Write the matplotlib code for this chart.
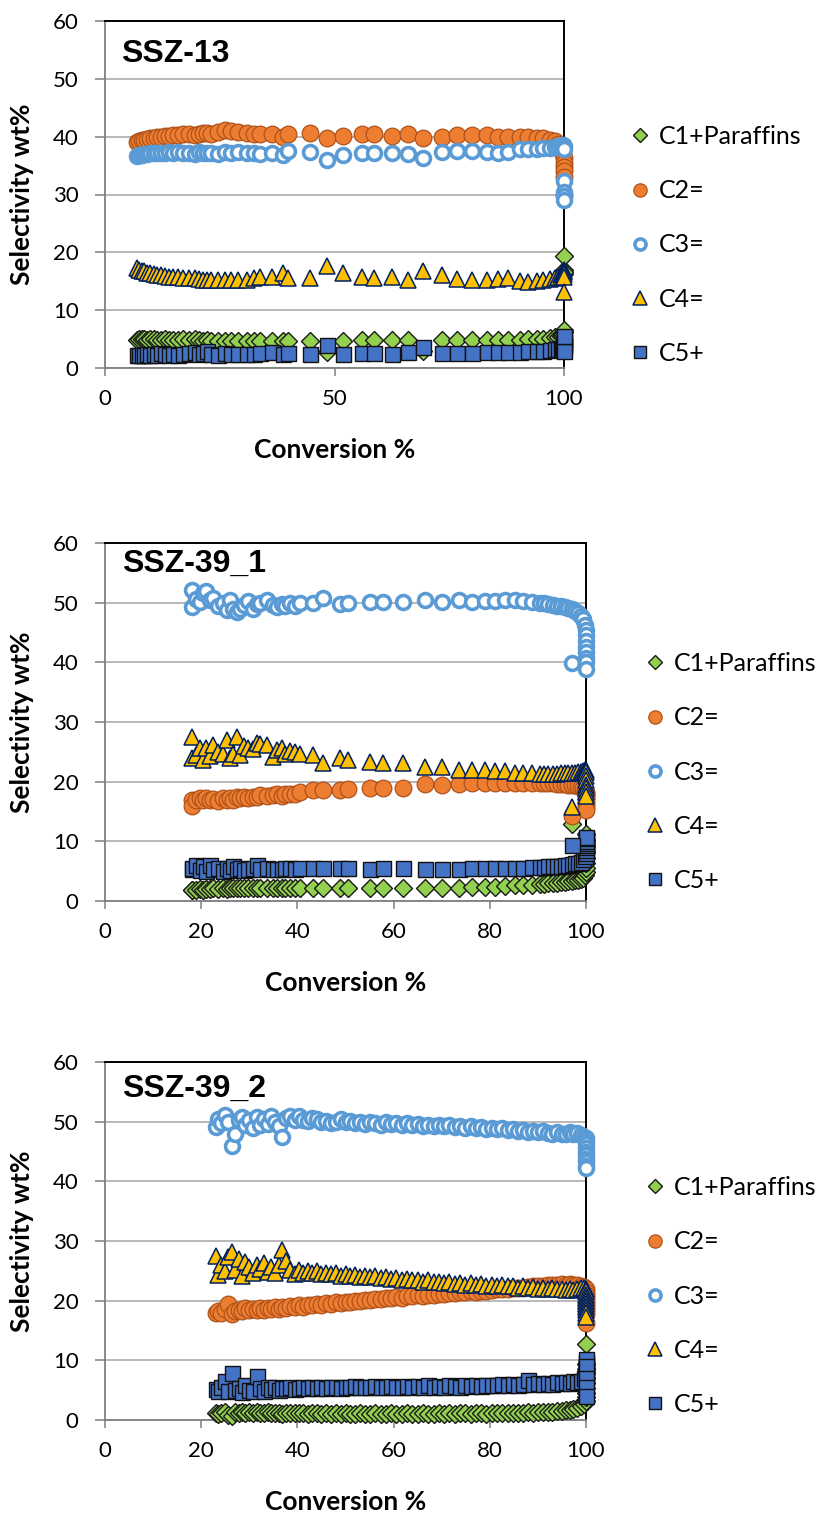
import matplotlib
matplotlib.use('Agg')
from matplotlib import pyplot as plt

plt.rcParams['font.family'] = ['Lato', 'DejaVu Sans']

# ---------------- SSZ-13 ----------------
conv_13 = [7.0, 7.5, 8.0, 8.6, 9.2, 9.9, 10.6, 11.4, 12.2, 13.0,
           13.9, 14.8, 15.8, 17.1, 18.4, 19.6, 20.5, 21.4, 22.3, 23.2,
           24.7, 26.1, 27.5, 29.0, 30.9, 32.4, 33.8, 36.3, 38.8, 39.9,
           44.7, 48.3, 51.9, 55.9, 58.5, 62.5, 66.1, 69.3, 73.4, 76.6,
           79.9, 83.2, 85.7, 87.9, 90.4, 92.2, 94.1, 95.5, 96.9, 98.0,
           98.8, 99.3, 99.6, 99.8, 99.9, 100, 100, 100, 100, 100]
c1_13 = [4.9, 5.0, 5.0, 5.0, 4.9, 5.0, 5.0, 4.9, 4.9, 5.0,
         4.9, 4.8, 4.9, 5.0, 4.9, 5.1, 4.9, 4.7, 4.8, 4.7,
         4.7, 4.6, 4.7, 4.6, 4.6, 4.6, 4.7, 4.7, 4.7, 4.7,
         4.7, 2.7, 4.7, 4.8, 4.8, 4.8, 4.8, 3.0, 4.8, 4.8,
         4.8, 4.9, 4.9, 4.9, 4.9, 5.0, 5.0, 5.1, 5.2, 5.3,
         5.4, 5.5, 5.7, 5.9, 6.2, 6.6, 16.3, 17.0, 16.6, 19.4]
c2_13 = [39.0, 39.2, 39.4, 39.5, 39.6, 39.7, 39.8, 39.9, 40.0, 40.1,
         40.2, 40.3, 40.3, 40.5, 40.4, 40.3, 40.5, 40.7, 40.6, 40.5,
         40.8, 41.2, 40.9, 40.8, 40.6, 40.5, 40.4, 40.4, 40.0, 40.4,
         40.6, 39.8, 40.2, 40.4, 40.5, 40.2, 40.4, 39.8, 39.9, 40.3,
         40.3, 40.3, 40.0, 40.0, 40.0, 39.9, 39.8, 39.7, 39.5, 39.2,
         38.8, 38.3, 37.6, 37.0, 36.3, 35.5, 34.8, 34.0, 33.0, 30.0]
c3_13 = [36.6, 36.8, 36.9, 37.0, 37.0, 37.1, 37.2, 37.1, 37.2, 37.2,
         37.3, 37.2, 37.3, 37.2, 37.2, 37.0, 37.3, 37.2, 37.1, 37.2,
         37.0, 37.3, 37.2, 37.3, 37.2, 37.2, 37.0, 37.1, 36.9, 37.5,
         37.3, 35.9, 36.8, 37.1, 37.1, 37.1, 37.0, 36.3, 37.3, 37.6,
         37.5, 37.4, 37.2, 37.3, 37.8, 37.8, 37.9, 38.0, 38.0, 38.2,
         38.3, 38.4, 38.5, 38.5, 38.3, 37.8, 32.3, 30.5, 29.8, 29.1]
c4_13 = [17.3, 17.0, 16.8, 16.7, 16.5, 16.4, 16.2, 16.1, 16.0, 15.9,
         15.8, 15.7, 15.7, 15.6, 15.5, 15.5, 15.4, 15.3, 15.3, 15.2,
         15.3, 15.3, 15.2, 15.2, 15.2, 15.6, 15.8, 15.8, 16.4, 15.6,
         15.5, 17.6, 16.4, 15.7, 15.5, 15.8, 15.2, 16.8, 16.0, 15.4,
         15.2, 15.2, 15.4, 15.6, 15.1, 14.9, 15.1, 15.3, 15.4, 15.6,
         15.8, 16.0, 16.3, 16.6, 16.8, 17.0, 16.6, 16.2, 15.8, 13.2]
c5_13 = [2.2, 2.2, 2.3, 2.2, 2.4, 2.3, 2.5, 2.3, 2.6, 2.4,
         2.3, 2.5, 2.3, 2.4, 2.6, 2.8, 2.4, 2.6, 3.0, 2.5,
         2.3, 2.6, 2.4, 2.5, 2.5, 2.4, 2.6, 2.7, 2.4, 2.6,
         2.5, 4.0, 2.5, 2.6, 2.6, 2.5, 2.7, 3.6, 2.6, 2.6,
         2.6, 2.7, 2.7, 2.7, 2.8, 2.9, 3.0, 3.0, 3.1, 3.2,
         3.3, 3.4, 3.5, 3.6, 3.8, 4.0, 4.5, 5.0, 3.0, 5.6]

# ---------------- SSZ-39_1 ----------------
conv_391 = [18.0, 18.0, 19.0, 19.8, 20.4, 21.1, 21.8, 22.5, 23.5, 24.6,
            25.3, 26.0, 26.7, 27.4, 28.1, 28.8, 29.8, 30.8, 31.5, 32.2,
            33.6, 35.0, 35.7, 36.7, 37.4, 38.5, 39.5, 40.5, 43.3, 45.4,
            48.9, 50.6, 55.1, 57.9, 62.0, 66.5, 70.0, 73.5, 76.2, 79.0,
            81.1, 83.2, 85.2, 87.0, 88.7, 90.4, 91.3, 92.2, 93.1, 93.9,
            94.8, 95.6, 96.3, 97.0, 97.7, 98.4, 98.9, 99.4, 99.7, 99.9,
            100, 100, 100, 100, 100, 100, 100, 97.0]
c1_391 = [1.9, 1.8, 1.9, 2.0, 1.9, 2.0, 2.0, 2.1, 2.0, 2.1,
          2.0, 2.1, 2.1, 2.1, 2.1, 2.1, 2.1, 2.1, 2.1, 2.1,
          2.1, 2.1, 2.2, 2.1, 2.1, 2.2, 2.1, 2.1, 2.1, 2.2,
          2.1, 2.2, 2.1, 2.1, 2.2, 2.1, 2.2, 2.2, 2.3, 2.3,
          2.4, 2.5, 2.6, 2.6, 2.7, 2.8, 2.9, 3.0, 3.0, 3.1,
          3.2, 3.2, 3.3, 3.4, 3.5, 3.6, 3.7, 3.9, 4.3, 4.8,
          5.5, 6.3, 7.2, 8.2, 9.2, 10.3, 11.3, 12.9]
c2_391 = [16.9, 15.9, 17.0, 17.2, 17.0, 17.3, 16.9, 17.1, 16.8, 17.2,
          17.0, 17.2, 16.9, 17.4, 17.2, 17.5, 17.3, 17.5, 17.4, 17.7,
          17.6, 17.7, 17.9, 17.6, 17.9, 17.9, 18.0, 18.3, 18.6, 18.6,
          18.6, 18.7, 18.9, 18.9, 18.9, 19.6, 19.5, 19.6, 19.7, 19.7,
          19.8, 19.8, 19.8, 19.8, 19.8, 19.8, 19.7, 19.7, 19.7, 19.6,
          19.6, 19.6, 19.5, 19.5, 19.4, 19.3, 19.1, 18.9, 18.6, 18.3,
          18.0, 17.6, 17.2, 16.8, 16.3, 15.8, 15.2, 14.3]
c3_391 = [52.1, 49.3, 50.6, 50.1, 51.7, 52.0, 50.4, 50.7, 49.5, 50.0,
          48.8, 50.4, 49.0, 48.4, 48.9, 49.6, 50.2, 49.0, 49.8, 49.9,
          50.4, 49.6, 49.2, 49.7, 49.5, 49.9, 49.4, 49.9, 49.9, 50.7,
          49.8, 50.0, 50.1, 50.1, 50.1, 50.4, 50.1, 50.5, 50.1, 50.2,
          50.2, 50.4, 50.5, 50.3, 50.1, 50.0, 49.9, 49.8, 49.6, 49.5,
          49.4, 49.2, 49.1, 48.9, 48.6, 48.2, 47.8, 47.2, 46.3, 45.5,
          44.5, 43.6, 42.6, 41.7, 40.8, 40.0, 38.8, 39.9]
c4_391 = [27.5, 23.9, 24.5, 25.6, 23.6, 25.6, 24.3, 26.1, 25.0, 24.6,
          27.0, 24.0, 24.6, 27.5, 24.5, 26.0, 25.6, 25.5, 26.4, 26.3,
          26.1, 24.2, 25.3, 25.6, 24.7, 25.1, 25.0, 24.7, 24.5, 23.1,
          23.9, 23.6, 23.3, 23.2, 23.2, 22.5, 22.5, 21.9, 22.0, 21.9,
          21.8, 21.8, 21.4, 21.4, 21.4, 21.3, 21.3, 21.3, 21.3, 21.3,
          21.4, 21.4, 21.4, 21.5, 21.5, 21.6, 21.7, 21.8, 21.9, 22.0,
          21.6, 21.0, 20.2, 19.5, 18.9, 18.3, 17.6, 15.8]
c5_391 = [5.4, 5.6, 6.0, 5.2, 5.8, 5.1, 6.0, 5.3, 5.5, 5.0,
          5.6, 5.2, 5.9, 5.3, 5.5, 5.2, 5.4, 5.6, 6.1, 5.4,
          5.6, 5.4, 5.3, 5.3, 5.5, 5.5, 5.4, 5.5, 5.5, 5.5,
          5.5, 5.5, 5.3, 5.5, 5.5, 5.3, 5.4, 5.4, 5.5, 5.6,
          5.6, 5.6, 5.6, 5.6, 5.7, 5.7, 5.7, 5.8, 5.8, 5.9,
          5.9, 6.0, 6.1, 6.2, 6.3, 6.4, 6.6, 7.0, 7.5, 8.0,
          8.5, 9.0, 9.4, 9.8, 10.1, 10.5, 10.8, 9.4]

# ---------------- SSZ-39_2 ----------------
conv_392 = [23.0, 23.5, 24.2, 25.0, 25.6, 26.3, 27.0, 27.8, 28.5, 29.2,
            30.0, 30.8, 31.5, 32.3, 33.0, 33.8, 34.6, 35.4, 36.2, 36.9,
            37.7, 38.5, 39.4, 40.3, 41.2, 42.1, 43.0, 44.0, 45.0, 46.0,
            47.0, 48.0, 49.0, 50.0, 51.0, 52.0, 53.0, 54.0, 55.1, 56.2,
            57.3, 58.4, 59.5, 60.6, 61.7, 62.8, 63.9, 65.0, 66.1, 67.2,
            68.3, 69.4, 70.5, 71.6, 72.7, 73.8, 74.9, 76.0, 77.1, 78.2,
            79.3, 80.4, 81.5, 82.6, 83.7, 84.8, 85.9, 87.0, 88.0, 89.0,
            90.0, 91.0, 92.0, 93.0, 94.0, 95.0, 95.8, 96.6, 97.4, 98.2,
            98.9, 99.5, 99.9, 100, 100, 100, 100, 100, 100, 100,
            100, 100]
c1_392 = [1.1, 1.0, 1.2, 1.3, 0.9, 0.6, 1.4, 1.1, 1.3, 1.2,
          1.4, 1.1, 1.3, 1.2, 1.1, 1.3, 1.2, 1.1, 1.2, 1.0,
          1.2, 1.1, 1.2, 1.1, 1.2, 1.0, 1.1, 1.1, 1.0, 1.1,
          1.0, 1.1, 1.0, 1.1, 1.0, 1.0, 1.1, 1.0, 1.0, 1.1,
          1.0, 1.0, 1.1, 1.0, 1.0, 1.1, 1.0, 1.0, 1.1, 1.0,
          1.0, 1.1, 1.0, 1.1, 1.0, 1.1, 1.1, 1.0, 1.1, 1.1,
          1.0, 1.1, 1.1, 1.2, 1.1, 1.2, 1.2, 1.2, 1.3, 1.2,
          1.3, 1.3, 1.4, 1.4, 1.5, 1.5, 1.6, 1.7, 1.8, 2.0,
          2.3, 2.7, 3.2, 3.8, 4.6, 5.4, 6.2, 7.0, 7.8, 8.6,
          9.4, 12.8]
c2_392 = [17.9, 18.3, 18.0, 18.6, 19.4, 17.7, 18.3, 18.5, 18.2, 18.7,
          18.4, 18.6, 18.5, 18.8, 18.4, 18.8, 18.6, 18.9, 18.6, 19.0,
          18.8, 19.1, 18.9, 19.2, 19.0, 19.3, 19.2, 19.4, 19.3, 19.6,
          19.5, 19.7, 19.6, 19.8, 19.8, 20.0, 19.9, 20.1, 20.1, 20.3,
          20.2, 20.4, 20.4, 20.6, 20.5, 20.7, 20.7, 20.9, 20.8, 21.0,
          21.0, 21.2, 21.1, 21.3, 21.3, 21.4, 21.4, 21.6, 21.5, 21.7,
          21.7, 21.8, 21.9, 22.0, 22.0, 22.1, 22.2, 22.2, 22.3, 22.4,
          22.4, 22.5, 22.6, 22.6, 22.7, 22.8, 22.7, 22.8, 22.7, 22.6,
          22.5, 22.3, 22.0, 21.5, 21.0, 20.5, 20.0, 19.5, 19.0, 18.5,
          17.8, 16.2]
c3_392 = [49.1, 50.5, 49.8, 51.2, 50.0, 46.0, 48.0, 50.3, 50.8, 49.5,
          50.2, 49.0, 50.8, 49.4, 50.5, 49.6, 50.9, 50.0, 49.3, 47.5,
          50.6, 51.0, 50.2, 50.9, 50.3, 50.1, 50.6, 50.4, 49.9, 50.1,
          49.7, 50.0, 50.4, 49.9, 50.1, 49.8, 50.0, 49.6, 50.0, 49.7,
          49.4, 49.9, 49.6, 49.8, 49.5, 49.7, 49.4, 49.6, 49.3, 49.5,
          49.2, 49.4, 49.2, 49.4, 49.1, 49.3, 49.0, 49.2, 48.9, 49.1,
          48.8, 49.0, 48.7, 48.9, 48.6, 48.8, 48.5, 48.6, 48.3, 48.5,
          48.2, 48.4, 48.1, 48.0, 48.2, 47.9, 48.0, 48.3, 47.9, 48.1,
          47.8, 47.5, 47.2, 46.8, 46.2, 45.6, 45.0, 44.4, 43.8, 43.2,
          42.6, 42.3]
c4_392 = [27.5, 24.3, 26.0, 25.0, 27.3, 28.2, 25.2, 26.9, 24.2, 26.4,
          25.6, 24.6, 26.0, 25.3, 26.3, 24.8, 25.7, 24.6, 26.0, 28.5,
          26.6, 25.1, 24.4, 25.2, 24.7, 25.0, 24.6, 24.9, 24.5, 24.7,
          24.4, 24.6, 24.2, 24.5, 24.1, 24.3, 24.0, 24.2, 23.9, 24.1,
          23.8, 23.9, 23.6, 23.8, 23.5, 23.7, 23.4, 23.5, 23.2, 23.4,
          23.1, 23.2, 23.0, 23.1, 22.8, 23.0, 22.7, 22.9, 22.6, 22.8,
          22.5, 22.7, 22.4, 22.6, 22.4, 22.5, 22.2, 22.4, 22.1, 22.3,
          22.0, 22.2, 22.0, 22.1, 21.9, 22.0, 21.8, 22.0, 21.8, 22.0,
          22.1, 22.2, 22.0, 21.6, 21.0, 20.5, 20.0, 19.5, 19.0, 18.5,
          18.0, 17.3]
c5_392 = [5.2, 4.9, 5.6, 6.5, 4.8, 7.9, 5.0, 5.4, 4.7, 5.8,
          5.1, 4.9, 7.3, 5.3, 4.9, 5.6, 5.2, 5.5, 5.0, 5.4,
          5.3, 5.6, 5.2, 5.4, 5.5, 5.3, 5.5, 5.4, 5.6, 5.4,
          5.5, 5.6, 5.4, 5.6, 5.5, 5.7, 5.5, 5.6, 5.5, 5.7,
          5.6, 5.5, 5.7, 5.6, 5.5, 5.7, 5.6, 5.7, 5.6, 5.8,
          5.6, 5.7, 5.6, 5.8, 5.7, 5.6, 5.8, 5.7, 5.9, 5.7,
          5.8, 5.9, 5.8, 6.0, 5.8, 6.0, 5.9, 6.1, 6.7, 6.0,
          6.2, 6.0, 6.2, 6.1, 6.3, 6.2, 6.4, 6.2, 6.5, 6.3,
          6.6, 7.0, 7.5, 8.0, 8.6, 9.2, 9.8, 10.2, 9.0, 7.0,
          5.5, 4.0]

series_names = ['C1+Paraffins', 'C2=', 'C3=', 'C4=', 'C5+']

# marker look for each series (Excel default-ish)
styles = [
    dict(marker='D', ms=8.8, mfc='#92D050', mec='#1A1A1A', mew=1.0),
    dict(marker='o', ms=12.0, mfc='#ED7D31', mec='#B0521A', mew=0.9),
    dict(marker='o', ms=10.0, mfc='white', mec='#5B9BD5', mew=2.6),
    dict(marker='^', ms=12.0, mfc='#FFC000', mec='#002060', mew=1.1),
    dict(marker='s', ms=10.8, mfc='#4472C4', mec='#111111', mew=1.0),
]

W, H = 831, 1515
fig = plt.figure(figsize=(W / 100, H / 100), dpi=100)


def draw_panel(box, name, conv, ys, xticks, title_y, leg_x, leg_y):
    left, top, right, bottom = box
    ax = fig.add_axes([left / W, 1 - bottom / H, (right - left) / W, (bottom - top) / H])
    # markers sit on top of the frame, like in excel
    for lab, y, st in zip(series_names, ys, styles):
        ax.plot(conv, y, ls='none', label=lab, clip_on=False, zorder=3, **st)

    ax.set_xlim(0, 100)
    ax.set_ylim(0, 60)
    ax.set_xticks(xticks)
    ax.set_yticks(range(0, 61, 10))
    ax.grid(axis='y', color='#A6A6A6', lw=1.1)
    ax.set_axisbelow(True)
    for s in ['top', 'right']:
        ax.spines[s].set_color('black')
        ax.spines[s].set_linewidth(1.4)
    for s in ['left', 'bottom']:
        ax.spines[s].set_color('#7F7F7F')
        ax.spines[s].set_linewidth(1.3)
    ax.tick_params(axis='y', direction='out', length=7, width=1.1, color='#7F7F7F', pad=12, labelsize=16)
    ax.tick_params(axis='x', direction='out', length=6, width=1.1, color='#7F7F7F', pad=9, labelsize=16)

    ax.text(0.036, title_y, name, transform=ax.transAxes, fontsize=23, fontweight='bold',
            family=['Liberation Sans', 'DejaVu Sans'], ha='left', va='baseline')

    ax.legend(loc='center left', bbox_to_anchor=(leg_x / W, 1 - leg_y / H), bbox_transform=fig.transFigure,
              frameon=False, fontsize=18, handlelength=0.8, handletextpad=0.35, labelspacing=1.25,
              borderpad=0, borderaxespad=0, markerscale=0.8, numpoints=1)

    cx = (left + right) / 2
    fig.text(cx / W, 1 - (bottom + 82) / H, 'Conversion %', ha='center', va='center',
             fontsize=19, fontweight='bold')
    fig.text(22 / W, 1 - (top + bottom) / 2 / H, 'Selectivity wt%', ha='center', va='center',
             rotation=90, fontsize=19, fontweight='bold')
    return ax


draw_panel((105, 21, 564, 368), 'SSZ-13', conv_13, [c1_13, c2_13, c3_13, c4_13, c5_13],
           [0, 50, 100], 0.883, 630, 245)
draw_panel((105, 543, 586, 901), 'SSZ-39_1', conv_391, [c1_391, c2_391, c3_391, c4_391, c5_391],
           [0, 20, 40, 60, 80, 100], 0.920, 645, 772)
draw_panel((105, 1062, 586, 1420), 'SSZ-39_2', conv_392, [c1_392, c2_392, c3_392, c4_392, c5_392],
           [0, 20, 40, 60, 80, 100], 0.903, 645, 1296)

plt.savefig('out.png', dpi=100)
